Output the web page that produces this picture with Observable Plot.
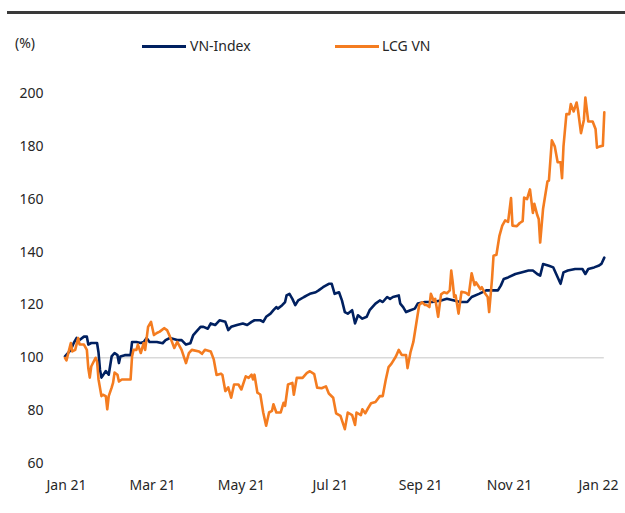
<!DOCTYPE html>
<html>
<head>
<meta charset="utf-8">
<script src="https://cdn.jsdelivr.net/npm/d3@7"></script>
<script src="https://cdn.jsdelivr.net/npm/@observablehq/plot@0.6"></script>
<style>
  html, body { margin: 0; padding: 0; background: #fff; }
  body { width: 625px; height: 513px; position: relative; overflow: hidden; font-family: "Noto Sans", "Open Sans", sans-serif; color: #262626; }
  #header { position: relative; width: 625px; height: 70px; }
  .rule { position: absolute; left: 7px; top: 11px; width: 618px; height: 3px; background: #3a3a3a; }
  .lbl { position: absolute; font-size: 14px; line-height: 16px; color: #262626; }
  .sw { position: absolute; height: 3px; width: 44px; }
  #chart { position: absolute; left: 0; top: 70px; }
</style>
</head>
<body>
<div id="header">
  <div class="rule"></div>
  <div class="lbl" style="left:15px; top:35px;">(%)</div>
  <div class="sw" style="left:142px; top:45px; background:#002060;"></div>
  <div class="lbl" style="left:190px; top:38px;">VN-Index</div>
  <div class="sw" style="left:335px; top:45px; background:#f47c20;"></div>
  <div class="lbl" style="left:382px; top:38px;">LCG VN</div>
</div>
<div id="chart"></div>
<script>
const seriesNames = ["VN-Index", "LCG VN"];
const seriesColors = ["#002060", "#f47c20"];

const vnDates = ["2020-12-31","2021-01-04","2021-01-06","2021-01-08","2021-01-10","2021-01-13","2021-01-15","2021-01-16","2021-01-18","2021-01-22","2021-01-23","2021-01-24","2021-01-25","2021-01-28","2021-01-30","2021-02-01","2021-02-03","2021-02-05","2021-02-06","2021-02-07","2021-02-10","2021-02-14","2021-02-15","2021-02-18","2021-02-21","2021-02-23","2021-02-25","2021-02-27","2021-03-01","2021-03-04","2021-03-08","2021-03-10","2021-03-13","2021-03-18","2021-03-21","2021-03-24","2021-03-27","2021-03-29","2021-04-01","2021-04-03","2021-04-05","2021-04-08","2021-04-10","2021-04-13","2021-04-16","2021-04-20","2021-04-22","2021-04-24","2021-04-28","2021-05-02","2021-05-05","2021-05-08","2021-05-10","2021-05-14","2021-05-16","2021-05-18","2021-05-21","2021-05-23","2021-05-25","2021-05-26","2021-05-29","2021-05-31","2021-06-01","2021-06-03","2021-06-05","2021-06-07","2021-06-09","2021-06-13","2021-06-15","2021-06-17","2021-06-21","2021-06-23","2021-06-26","2021-06-30","2021-07-02","2021-07-04","2021-07-07","2021-07-09","2021-07-11","2021-07-13","2021-07-16","2021-07-18","2021-07-20","2021-07-23","2021-07-26","2021-07-28","2021-08-01","2021-08-04","2021-08-06","2021-08-09","2021-08-11","2021-08-13","2021-08-17","2021-08-18","2021-08-20","2021-08-22","2021-08-25","2021-08-28","2021-08-30","2021-09-04","2021-09-09","2021-09-15","2021-09-19","2021-09-24","2021-09-28","2021-10-03","2021-10-06","2021-10-11","2021-10-16","2021-10-20","2021-10-24","2021-10-26","2021-10-28","2021-10-31","2021-11-05","2021-11-09","2021-11-14","2021-11-17","2021-11-20","2021-11-22","2021-11-24","2021-11-28","2021-12-01","2021-12-03","2021-12-06","2021-12-08","2021-12-11","2021-12-16","2021-12-21","2021-12-23","2021-12-25","2021-12-29","2022-01-01","2022-01-03","2022-01-05"];
const vnValues = [100.5,103,105.6,107.5,106.7,108,108,105,105.6,105.6,102,95.5,92.5,95,93.6,100.5,101.8,101,98,100.5,101,101,106,106,105.6,106,107.5,106,106,106,105.5,106.7,107.5,106.7,106.7,105,105.5,108.6,110.5,111.7,111.7,111,113,112.4,114.2,113.6,110.5,111.7,112.4,113,112.4,113.6,114.2,114.2,113.6,115.5,116.7,118,119.2,118.6,119.9,121.1,123.6,124.2,122.3,119.9,121.7,123,123.6,124.2,124.8,125.5,126.7,128,128,124.2,124.8,121.7,117.3,116.7,118,113,116.1,114.8,115.5,118,120.5,121.7,121.1,123,122.3,123,123.6,120.5,119.2,117.3,118,118.6,120.5,121.1,121.1,121.7,122.3,121.7,121.1,121.1,123,124.2,125.5,125.5,125.5,127.3,129.8,130.4,131.7,132.3,133,133,131.7,131.1,135.5,134.8,134.2,131.7,128,132.3,133,133.6,133.6,131.7,133.6,134.2,134.8,135.5,137.9];

const lcgDates = ["2020-12-31","2021-01-01","2021-01-04","2021-01-05","2021-01-07","2021-01-09","2021-01-10","2021-01-13","2021-01-15","2021-01-16","2021-01-17","2021-01-18","2021-01-21","2021-01-22","2021-01-23","2021-01-25","2021-01-26","2021-01-28","2021-01-29","2021-01-30","2021-02-01","2021-02-02","2021-02-03","2021-02-05","2021-02-06","2021-02-08","2021-02-14","2021-02-15","2021-02-16","2021-02-18","2021-02-19","2021-02-21","2021-02-23","2021-02-24","2021-02-26","2021-02-28","2021-03-02","2021-03-04","2021-03-06","2021-03-09","2021-03-11","2021-03-13","2021-03-16","2021-03-18","2021-03-21","2021-03-24","2021-03-26","2021-03-28","2021-04-02","2021-04-04","2021-04-06","2021-04-10","2021-04-12","2021-04-14","2021-04-17","2021-04-18","2021-04-20","2021-04-22","2021-04-24","2021-04-26","2021-04-29","2021-05-01","2021-05-04","2021-05-06","2021-05-08","2021-05-09","2021-05-10","2021-05-12","2021-05-14","2021-05-16","2021-05-18","2021-05-20","2021-05-22","2021-05-23","2021-05-25","2021-05-28","2021-05-30","2021-05-31","2021-06-02","2021-06-05","2021-06-06","2021-06-08","2021-06-12","2021-06-15","2021-06-17","2021-06-20","2021-06-22","2021-06-25","2021-06-28","2021-06-30","2021-07-03","2021-07-05","2021-07-08","2021-07-11","2021-07-13","2021-07-16","2021-07-18","2021-07-19","2021-07-22","2021-07-23","2021-07-25","2021-07-27","2021-07-29","2021-08-01","2021-08-04","2021-08-06","2021-08-08","2021-08-10","2021-08-12","2021-08-15","2021-08-17","2021-08-19","2021-08-22","2021-08-23","2021-08-25","2021-08-27","2021-08-29","2021-08-31","2021-09-02","2021-09-04","2021-09-05","2021-09-07","2021-09-08","2021-09-10","2021-09-11","2021-09-12","2021-09-13","2021-09-15","2021-09-17","2021-09-19","2021-09-21","2021-09-22","2021-09-23","2021-09-24","2021-09-25","2021-09-27","2021-09-29","2021-10-02","2021-10-04","2021-10-06","2021-10-08","2021-10-09","2021-10-12","2021-10-13","2021-10-15","2021-10-17","2021-10-18","2021-10-20","2021-10-21","2021-10-23","2021-10-25","2021-10-27","2021-10-29","2021-10-31","2021-11-02","2021-11-03","2021-11-06","2021-11-08","2021-11-10","2021-11-11","2021-11-13","2021-11-15","2021-11-17","2021-11-18","2021-11-20","2021-11-21","2021-11-22","2021-11-24","2021-11-27","2021-11-28","2021-11-30","2021-12-02","2021-12-04","2021-12-06","2021-12-07","2021-12-08","2021-12-10","2021-12-12","2021-12-13","2021-12-15","2021-12-17","2021-12-18","2021-12-20","2021-12-22","2021-12-23","2021-12-25","2021-12-28","2021-12-30","2021-12-31","2022-01-02","2022-01-04","2022-01-05"];
const lcgValues = [100,99,105.6,102.4,103,107.5,105,105,103,96,92.5,96.7,100,98.6,91.8,85.5,86,85.5,80.5,85.5,88.7,90.6,94.4,93.6,91,91.8,91.8,100.5,103,103,105,101.8,105.6,103,111.7,113.6,108.6,109.4,109.9,111.2,110.5,108,103.7,106,103,98,101.8,103,102.4,101.5,103,102.4,99.5,93.5,94,93.5,87.4,88.8,84.9,89.9,89.9,88,93,92.4,93.6,91.8,93.6,86.8,86.1,79.3,74.3,79.3,79.9,82.4,79.3,79.3,83,81.8,89.9,90.5,86,92.4,92.4,94.3,94.9,93.8,88.7,88.5,89.2,86.5,84.9,79,78,73,79.3,78.3,74.6,79.3,78.3,80.5,79,81,82.8,83.3,85.5,85.5,91.5,96.5,97.8,100.5,103,101.1,101,96.1,102,106,113,120,121,120,120,119.2,124.2,121.5,122.3,119,115.5,124,124.8,124.4,125.5,133,128.6,123,123.6,116.7,125,124.6,123.8,132,127.5,128.5,126,126.7,124.5,123,117.3,130,138.6,139,146,150,152,151.4,160.4,150,149.8,151,151.7,160.6,160,163.7,154.8,158.3,154,152.5,143.6,156.4,166.7,167,182.3,180,174,174,168,180,192.2,192.2,196,193.2,196.6,193.5,185,190,198.5,189.4,189.4,186.6,179.5,180,180.2,192.9];

const yTicks = [60, 80, 100, 120, 140, 160, 180, 200];
const xTickDates = ["2021-01-01","2021-03-01","2021-05-01","2021-07-01","2021-09-01","2021-11-01","2022-01-01"];
const xTickLabels = ["Jan 21","Mar 21","May 21","Jul 21","Sep 21","Nov 21","Jan 22"];
const refValue = 100;

const parse = d3.utcParse("%Y-%m-%d");
const rows = [
  ...vnDates.map((d, i) => ({date: parse(d), value: vnValues[i], series: seriesNames[0]})),
  ...lcgDates.map((d, i) => ({date: parse(d), value: lcgValues[i], series: seriesNames[1]}))
];
const xTicks = xTickDates.map(parse);
const labelFor = new Map(xTickDates.map((d, i) => [+parse(d), xTickLabels[i]]));

const chart = Plot.plot({
  width: 625,
  height: 443,
  marginTop: 23,
  marginBottom: 50,
  marginLeft: 64.5,
  marginRight: 21.2,
  style: {fontFamily: "'Noto Sans', 'Open Sans', sans-serif", fontSize: "14px", color: "#262626", background: "#fff"},
  x: {type: "utc", domain: [parse("2020-12-31"), parse("2022-01-05")]},
  y: {domain: [60, 200]},
  color: {domain: seriesNames, range: seriesColors},
  marks: [
    Plot.ruleY([refValue], {stroke: "#d9d9d9", strokeWidth: 1.5}),
    Plot.axisY({ticks: yTicks, tickSize: 0, tickPadding: 21.5, label: null, fill: "#262626"}),
    Plot.axisX({ticks: xTicks, tickSize: 0, tickPadding: 17, label: null, tickFormat: d => labelFor.get(+d), fill: "#262626"}),
    Plot.lineY(rows.filter(r => r.series === seriesNames[0]), {x: "date", y: "value", stroke: "series", strokeWidth: 2.6, curve: "linear"}),
    Plot.lineY(rows.filter(r => r.series === seriesNames[1]), {x: "date", y: "value", stroke: "series", strokeWidth: 2.6, curve: "linear"})
  ]
});
document.getElementById("chart").appendChild(chart);
</script>
</body>
</html>
